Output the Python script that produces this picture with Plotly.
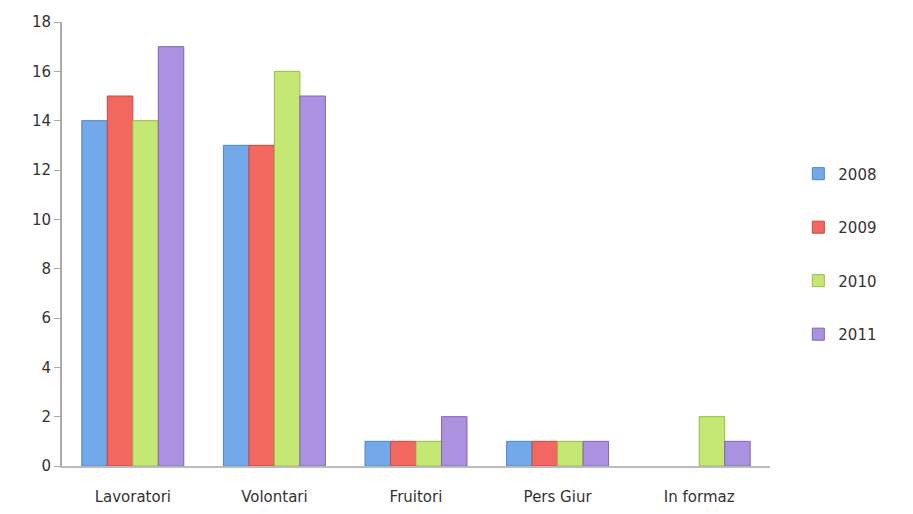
import plotly.graph_objects as go

categories = ["Lavoratori", "Volontari", "Fruitori", "Pers Giur", "In formaz"]
years = ["2008", "2009", "2010", "2011"]
v2008 = [14, 13, 1, 1, 0]
v2009 = [15, 13, 1, 1, 0]
v2010 = [14, 16, 1, 1, 2]
v2011 = [17, 15, 2, 1, 1]
series = [v2008, v2009, v2010, v2011]
colors = ["#72a9ea", "#f2675f", "#c4e873", "#ab92e0"]
edge = ["#4f86c6", "#c9483f", "#97bb4c", "#7d66b3"]

fig = go.Figure()
for i, (y, vals) in enumerate(zip(years, series)):
    fig.add_trace(go.Bar(
        x=categories, y=vals, name=y, legendgroup=y,
        marker=dict(color=colors[i],
                    line=dict(color=edge[i], width=[1 if v > 0 else 0 for v in vals])),
    ))

fig.update_layout(
    width=913, height=514,
    margin=dict(l=62, r=143, t=22, b=48),
    paper_bgcolor="white", plot_bgcolor="white",
    barmode="group", bargap=0.28, bargroupgap=0.0,
    font=dict(family="DejaVu Sans", size=15, color="#333333"),
    legend=dict(x=1.04, y=0.695, xanchor="left", yanchor="top",
                tracegroupgap=31, font=dict(size=15, color="#333333"),
                itemwidth=30),
    showlegend=True,
)
fig.update_yaxes(range=[0, 18], dtick=2, showgrid=False, showline=True,
                 linecolor="#aaaaaa", linewidth=2, ticks="outside", ticklen=6,
                 tickcolor="#aaaaaa", zeroline=False, tickfont=dict(size=15),
                 automargin=False)
fig.update_xaxes(showline=True, linecolor="#bbbbbb", linewidth=2, ticks="",
                 ticklabelstandoff=16, tickfont=dict(size=15), automargin=False)
fig.write_html("out.html")
